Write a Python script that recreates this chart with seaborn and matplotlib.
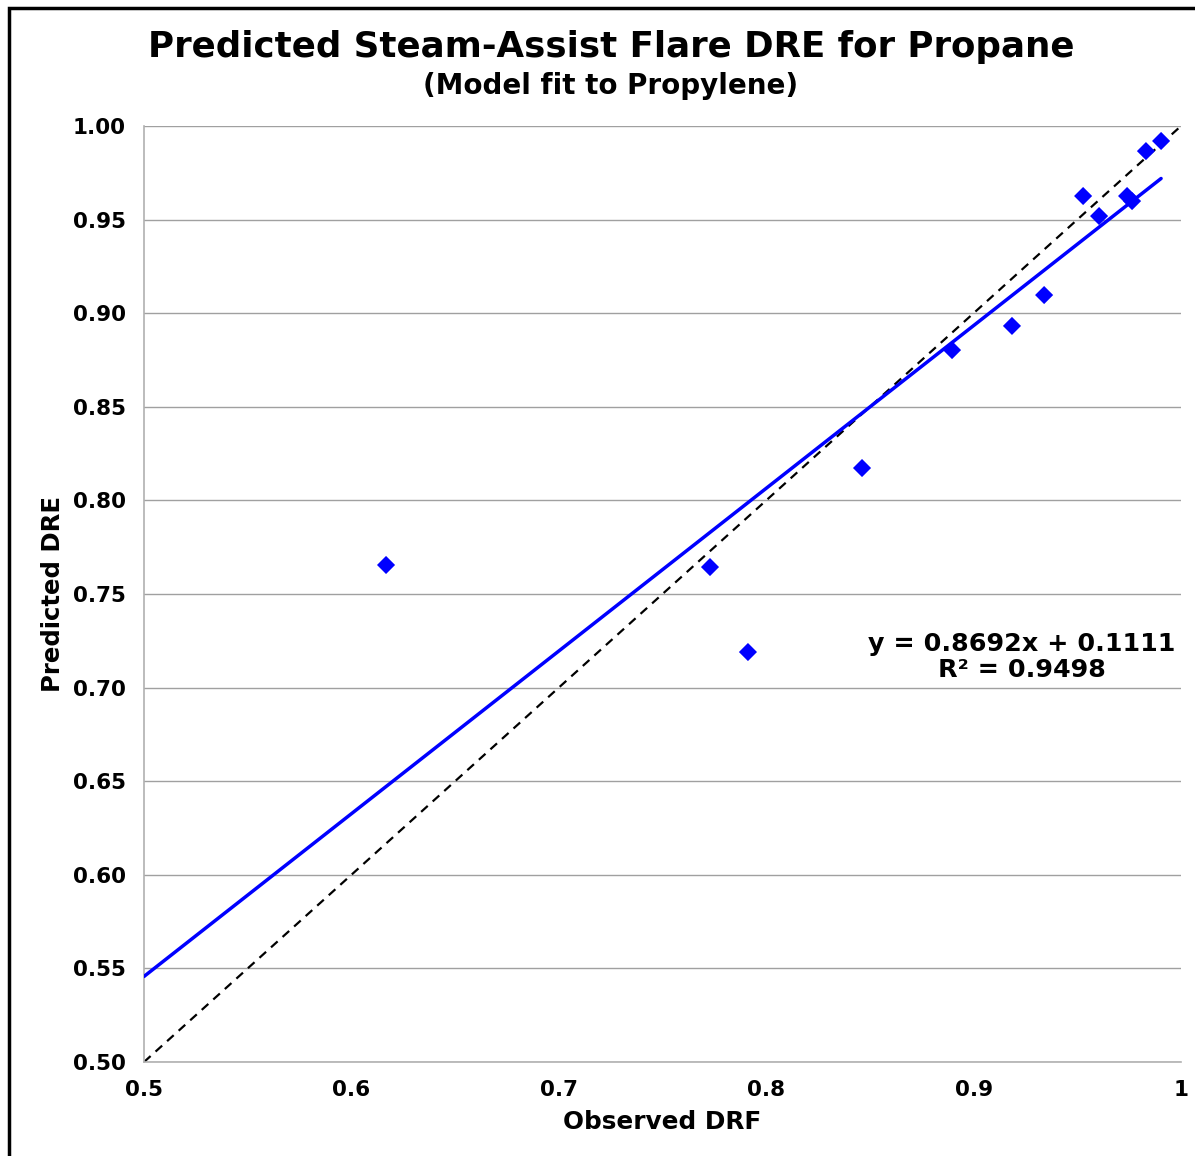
import matplotlib
matplotlib.use("Agg")
import matplotlib.pyplot as plt
import seaborn as sns
import numpy as np
import pandas as pd
from matplotlib.patches import Rectangle

observed = [0.6167, 0.7729, 0.7912, 0.8462, 0.8896, 0.9185, 0.9340,
            0.9528, 0.9605, 0.9740, 0.9764, 0.9831, 0.9904]
predicted = [0.7655, 0.7644, 0.7190, 0.8173, 0.8803, 0.8932, 0.9097,
             0.9626, 0.9519, 0.9626, 0.9599, 0.9866, 0.9920]
slope = 0.8692
intercept = 0.1111
r2 = 0.9498
x_ticks = [0.5, 0.6, 0.7, 0.8, 0.9, 1.0]
x_tick_labels = ["0.5", "0.6", "0.7", "0.8", "0.9", "1"]
y_ticks = [0.50, 0.55, 0.60, 0.65, 0.70, 0.75, 0.80, 0.85, 0.90, 0.95, 1.00]

df = pd.DataFrame({"Observed DRF": observed, "Predicted DRE": predicted})

sns.set_theme(style="white")
plt.rcParams["font.family"] = ["DejaVu Sans"]
plt.rcParams["font.weight"] = "bold"
plt.rcParams["text.color"] = "black"
plt.rcParams["axes.labelcolor"] = "black"
plt.rcParams["xtick.color"] = "black"
plt.rcParams["ytick.color"] = "black"

fig = plt.figure(figsize=(11.95, 11.56), dpi=100)
ax = fig.add_axes([144/1195, 1 - 1062/1156, (1181-144)/1195, (1062-126)/1156])

# 1:1 dashed line
ref = pd.DataFrame({"x": [0.5, 1.0], "y": [0.5, 1.0]})
sns.lineplot(data=ref, x="x", y="y", ax=ax, color="black", linestyle=(0, (4, 3)),
             linewidth=1.6, zorder=2)
# trendline
xt = np.array([0.5, max(observed)])
trend = pd.DataFrame({"x": xt, "y": slope * xt + intercept})
sns.lineplot(data=trend, x="x", y="y", ax=ax, color="#0000FF", linewidth=2.5, zorder=3)
# points
sns.scatterplot(data=df, x="Observed DRF", y="Predicted DRE", ax=ax, marker="D",
                color="#0000FF", s=85, edgecolor="none", zorder=4, clip_on=False)

ax.set_xlim(0.5, 1.0)
ax.set_ylim(0.5, 1.0)
ax.set_xticks(x_ticks)
ax.set_xticklabels(x_tick_labels)
ax.set_yticks(y_ticks)
ax.set_yticklabels([f"{v:.2f}" for v in y_ticks])
ax.yaxis.grid(True, color="#A0A0A0", linewidth=1)
ax.xaxis.grid(False)
for s in ["top", "right"]:
    ax.spines[s].set_visible(False)
for s in ["left", "bottom"]:
    ax.spines[s].set_color("#B0B0B0")
    ax.spines[s].set_linewidth(1.2)
ax.tick_params(axis="both", which="both", direction="out", length=7, width=1.2,
               color="#B0B0B0", labelcolor="black", labelsize=15.5, pad=6)
for lbl in ax.get_xticklabels() + ax.get_yticklabels():
    lbl.set_fontweight("bold")
ax.set_xlabel("Observed DRF", fontsize=17.8, fontweight="bold", labelpad=7, color="black")
ax.set_ylabel("Predicted DRE", fontsize=17.6, fontweight="bold", labelpad=6, color="black")

fig.text(611/1195, 1 - 47/1156, "Predicted Steam-Assist Flare DRE for Propane",
         ha="center", va="center", fontsize=25.7, fontweight="bold", color="black")
fig.text(611/1195, 1 - 86/1156, "(Model fit to Propylene)",
         ha="center", va="center", fontsize=20, fontweight="bold", color="black")

ax.text(1022/1195, 1 - 657/1156,
        f"y = {slope:.4f}x + {intercept:.4f}\nR² = {r2:.4f}",
        transform=fig.transFigure, ha="center", va="center", multialignment="center",
        fontsize=18.3, fontweight="bold", linespacing=1.15, color="black")

fig.patches.append(Rectangle((9/1195, -10/1156), 1.05, (1148+10)/1156,
                             transform=fig.transFigure, fill=False,
                             edgecolor="black", linewidth=2.5))

fig.savefig("out.png", dpi=100)
